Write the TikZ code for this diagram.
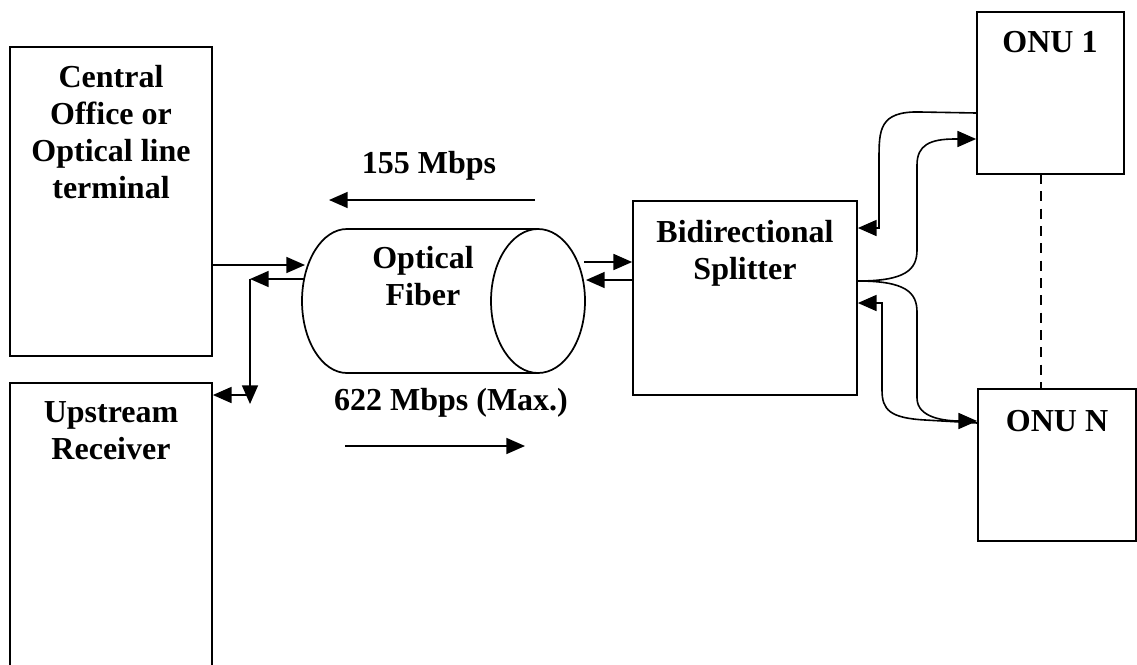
\documentclass[tikz,border=0pt]{standalone}
\usepackage{fontspec}
\setmainfont{Liberation Serif}
\usetikzlibrary{arrows.meta}
\newcommand\lbf{\fontsize{24}{27.75}\selectfont\bfseries}
\newcommand\mlines[1]{\begin{tabular}[t]{@{}c@{}}#1\end{tabular}}
\tikzset{
  box/.style={draw, line width=1.3pt, rectangle, inner sep=0pt},
  lbl/.style={font=\lbf, anchor=base, inner sep=0pt},
  conn/.style={line width=1.2pt},
  arr/.style={conn, -{Triangle[length=14pt,width=12pt]}},
}
\begin{document}
\begin{tikzpicture}[x=0.75pt,y=-0.75pt]
\path[use as bounding box] (0,0) rectangle (1137,664);
% boxes
\node[box, minimum width=151.5pt, minimum height=231.75pt] (co) at (111,201.5) {};
\node[box, minimum width=151.5pt, minimum height=237.75pt] (ur) at (111,541.5) {};
\node[box, minimum width=168pt, minimum height=145.5pt] (sp) at (745,298) {};
\node[box, minimum width=110.25pt, minimum height=121.5pt] (onu1) at (1050.5,93) {};
\node[box, minimum width=118.5pt, minimum height=114pt] (onuN) at (1057,465) {};
% fiber cylinder
\coordinate (fl) at (302,301);
\coordinate (fr) at (585,301);
\draw[line width=1.3pt] (347,229) -- (538,229);
\draw[line width=1.3pt] (347,373) -- (538,373);
\draw[line width=1.3pt] (347,229) .. controls (322.1,229) and (302,261.2) .. (fl)
  .. controls (302,340.8) and (322.1,373) .. (347,373);
\draw[line width=1.3pt] (538,301) ellipse [x radius=47, y radius=72];
% texts
\node[lbl] (tco) at (111,87) {\mlines{Central\\Office or\\Optical line\\terminal}};
\node[lbl] (tur) at (111,422) {\mlines{Upstream\\Receiver}};
\node[lbl] (tfi) at (423,268) {\mlines{Optical\\Fiber}};
\node[lbl] (tsp) at (745,242) {\mlines{Bidirectional\\Splitter}};
\node[lbl] (t1) at (1050,52) {ONU 1};
\node[lbl] (tN) at (1057,431) {ONU N};
\node[lbl] (t155) at (429,173) {155 Mbps};
\node[lbl] (t622) at (451,410) {622 Mbps (Max.)};
% rate arrows
\coordinate (r1s) at (535,200); \coordinate (r1e) at (329,200);
\draw[arr] (r1s) -- (r1e);
\coordinate (r2s) at (345,446); \coordinate (r2e) at (525,446);
\draw[arr] (r2s) -- (r2e);
% left connectors
\coordinate (fin) at (305,265);
\coordinate (fout) at (304,279);
\coordinate (j) at (250,279);
\coordinate (jd) at (250,404);
\coordinate (jh) at (250,395);
\draw[arr] (co.east |- fin) -- (fin);
\draw[arr] (fout) -- (j);
\draw[arr] (j) -- (jd);
\draw[arr] (jh) -- (ur.east |- jh);
% fiber to splitter
\coordinate (fo1) at (584,262);
\coordinate (fo2) at (586,280);
\draw[arr] (fo1) -- (sp.west |- fo1);
\draw[arr] (sp.west |- fo2) -- (fo2);
% splitter to ONUs
\coordinate (s0) at (857,281);
\draw[arr] (onu1.west |- 0,113) -- (920,112) .. controls (879,111) and (879,130) .. (879,160) -- (879,228) -- (sp.east |- 0,228);
\draw[arr] (sp.east |- s0) .. controls (905,281) and (917,270) .. (917,250) -- (917,165) .. controls (917,145) and (930,139) .. (955,139) -- (onu1.west |- 0,139);
\draw[arr] (sp.east |- s0) .. controls (905,281) and (917,292) .. (917,312) -- (917,398) .. controls (917,418) and (945,421) .. (960,421) -- (onuN.west |- 0,421);
\draw[arr] (onuN.west |- 0,423) -- (925,420) .. controls (890,418) and (882,410) .. (882,390) -- (882,303) -- (sp.east |- 0,303);
% dashed link
\draw[conn, dash pattern=on 7.5pt off 5.5pt] (1041,174) -- (1041,389);
\end{tikzpicture}
\end{document}
